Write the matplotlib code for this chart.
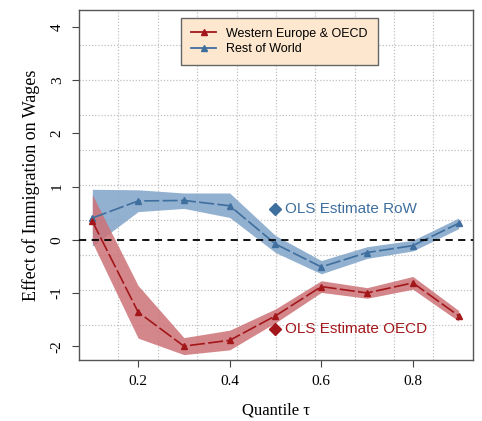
import numpy as np
import matplotlib
matplotlib.use('Agg')
import matplotlib.pyplot as plt
from matplotlib.lines import Line2D

# Quantiles
tau = [0.1, 0.2, 0.3, 0.4, 0.5, 0.6, 0.7, 0.8, 0.9]

# Rest of World estimates and band
row_est = [0.41, 0.73, 0.74, 0.64, -0.08, -0.51, -0.24, -0.11, 0.31]
row_lo = [-0.12, 0.53, 0.59, 0.42, -0.24, -0.64, -0.35, -0.21, 0.21]
row_hi = [0.95, 0.94, 0.88, 0.88, 0.08, -0.39, -0.13, -0.01, 0.41]

# Western Europe & OECD estimates and band
oecd_est = [0.35, -1.36, -2.0, -1.89, -1.43, -0.88, -1.0, -0.81, -1.43]
oecd_lo = [-0.05, -1.85, -2.16, -2.07, -1.56, -0.99, -1.10, -0.93, -1.53]
oecd_hi = [0.85, -0.86, -1.84, -1.70, -1.30, -0.77, -0.90, -0.69, -1.33]

# OLS estimates
ols_x = 0.5
ols_row = 0.57
ols_oecd = -1.67

red = '#a3171b'
red_band = '#cd7276'
blue = '#3f6f9e'
blue_band = '#86a8ca'

fig = plt.figure(figsize=(4.82, 4.21), dpi=100)
ax = fig.add_axes([0.164, 0.145, 0.817, 0.831])

xmin, xmax = 0.071, 0.931
ymin, ymax = -2.26, 4.32
ax.set_xlim(xmin, xmax)
ax.set_ylim(ymin, ymax)

# R style grid(10, 10)
for gx in np.linspace(xmin, xmax, 11)[1:-1]:
    ax.axvline(gx, color='#c0c0c0', lw=0.9, ls=(0, (1, 1.5)), zorder=0)
for gy in np.linspace(ymin, ymax, 11)[1:-1]:
    ax.axhline(gy, color='#c0c0c0', lw=0.9, ls=(0, (1, 1.5)), zorder=0)

ax.fill_between(tau, row_lo, row_hi, color=blue_band, alpha=0.9, lw=0, zorder=1)
ax.fill_between(tau, oecd_lo, oecd_hi, color=red_band, alpha=0.85, lw=0, zorder=2)

ax.plot(tau, row_est, color=blue, lw=1.2, marker='^', ms=4.5, dashes=(9, 2), zorder=3)
ax.plot(tau, oecd_est, color=red, lw=1.2, marker='^', ms=4.5, dashes=(9, 2), zorder=4)

ax.axhline(0, color='black', lw=1.3, ls=(0, (4, 3)), zorder=5)

ax.plot([ols_x], [ols_row], marker='D', color=blue, ms=6, zorder=6)
ax.plot([ols_x], [ols_oecd], marker='D', color=red, ms=6, zorder=6)
ax.text(ols_x + 0.02, ols_row, 'OLS Estimate RoW', color=blue, fontsize=11,
        family='Liberation Sans', va='center', ha='left', zorder=6)
ax.text(ols_x + 0.02, ols_oecd, 'OLS Estimate OECD', color=red, fontsize=11,
        family='Liberation Sans', va='center', ha='left', zorder=6)

handles = [Line2D([], [], color=red, lw=1.3, marker='^', ms=4),
           Line2D([], [], color=blue, lw=1.3, marker='^', ms=4)]
leg = ax.legend(handles, ['Western Europe & OECD', 'Rest of World'],
                loc='upper left', bbox_to_anchor=(0.259, 0.978), borderaxespad=0,
                fancybox=False, prop={'family': 'Liberation Sans', 'size': 9},
                handlelength=2.0, labelspacing=0.25, borderpad=0.8, handletextpad=0.8)
leg.get_frame().set_facecolor('#fde8cf')
leg.get_frame().set_edgecolor('#666666')
leg.get_frame().set_alpha(1)
leg.set_zorder(10)

ax.set_xticks([0.2, 0.4, 0.6, 0.8])
ax.set_xticklabels(['0.2', '0.4', '0.6', '0.8'], family='Liberation Serif', fontsize=11)
ax.set_yticks([-2, -1, 0, 1, 2, 3, 4])
ax.set_yticklabels(['-2', '-1', '0', '1', '2', '3', '4'], family='Liberation Serif',
                   fontsize=11, rotation=90, va='center')
ax.tick_params(direction='out', length=5, color='#444444', pad=6)

for s in ax.spines.values():
    s.set_color('#555555')
    s.set_linewidth(1.0)

ax.set_xlabel('Quantile τ', family='Liberation Serif', fontsize=12, labelpad=10)
ax.set_ylabel('Effect of Immigration on Wages', family='Liberation Serif', fontsize=13, labelpad=8)

fig.savefig('out.png', dpi=100)
